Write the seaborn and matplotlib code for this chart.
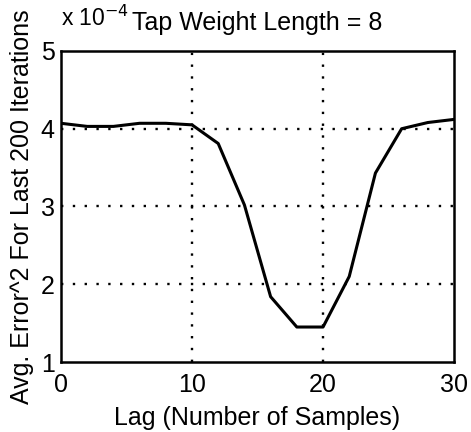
import numpy as np
import pandas as pd
import seaborn as sns
import matplotlib
matplotlib.use("Agg")
import matplotlib.pyplot as plt

# Veriler (birim: 1e-4)
lag = [0, 2, 4, 6, 8, 10, 12, 14, 16, 18, 20, 22, 24, 26, 28, 30]
avg_err = [4.07, 4.03, 4.03, 4.07, 4.07, 4.05, 3.81, 3.02, 1.84, 1.45,
           1.45, 2.10, 3.43, 4.00, 4.08, 4.12]
x_ticks = [0, 10, 20, 30]
y_ticks = [1, 2, 3, 4, 5]

df = pd.DataFrame({"lag": lag, "err": avg_err})

sns.set_style("white")
plt.rcParams['font.family'] = ['Liberation Sans', 'DejaVu Sans']
plt.rcParams['text.color'] = 'black'
plt.rcParams['axes.labelcolor'] = 'black'
plt.rcParams['xtick.color'] = 'black'
plt.rcParams['ytick.color'] = 'black'

fig = plt.figure(figsize=(4.71, 4.32), dpi=100)
ax = fig.add_axes([0.1295, 0.162, 0.8345, 0.72])

sns.lineplot(data=df, x="lag", y="err", color="black", linewidth=2.2, ax=ax)

ax.set_xlim(0, 30)
ax.set_ylim(1, 5)
ax.set_xticks(x_ticks)
ax.set_yticks(y_ticks)
ax.tick_params(labelsize=18, direction="in", length=4, color="black",
               labelcolor="black")
ax.tick_params(axis="x", pad=8)
ax.tick_params(axis="y", pad=4.5)

# MATLAB tarzi noktali grid
for xv in x_ticks[1:-1]:
    ax.axvline(xv, color="black", linestyle=(0, (1, 4)), linewidth=1.7, zorder=0)
for yv in y_ticks[1:-1]:
    ax.axhline(yv, color="black", linestyle=(0, (1, 4)), linewidth=1.7, zorder=0)

for s in ax.spines.values():
    s.set_color("black")
    s.set_linewidth(1.8)

ax.set_xlabel("Lag (Number of Samples)", fontsize=18, labelpad=6.5, color="black")
ax.set_ylabel("Avg. Error^2 For Last 200 Iterations", fontsize=18, labelpad=4.5,
              color="black")
ax.set_title("Tap Weight Length = 8", fontsize=18, pad=15, color="black")
ax.text(0.0, 1.065, r"x 10$^{-4}$", transform=ax.transAxes, fontsize=16.5,
        ha="left", va="bottom", color="black")

plt.savefig("out.png", dpi=100)
